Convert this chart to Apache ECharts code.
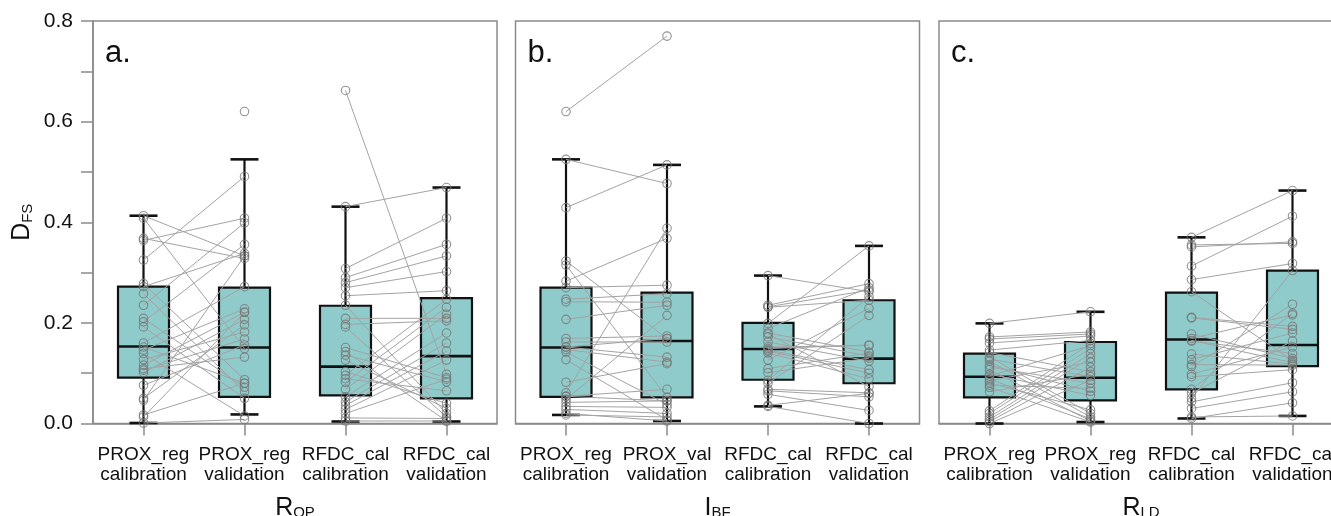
<!DOCTYPE html>
<html><head><meta charset="utf-8">
<script src="https://cdn.jsdelivr.net/npm/echarts@6/dist/echarts.min.js"></script>
<style>html,body{margin:0;padding:0;overflow:hidden;background:#fff}#c{width:1331px;height:516px}</style>
</head><body><div id="c"></div><script>
// ---------- categories / labels ----------
const categoriesA = ['PROX_reg\ncalibration', 'PROX_reg\nvalidation', 'RFDC_cal\ncalibration', 'RFDC_cal\nvalidation'];
const categoriesB = ['PROX_reg\ncalibration', 'PROX_val\nvalidation', 'RFDC_cal\ncalibration', 'RFDC_cal\nvalidation'];
const categoriesC = ['PROX_reg\ncalibration', 'PROX_reg\nvalidation', 'RFDC_cal\ncalibration', 'RFDC_cal\nvalidation'];
const axisTitleMain = ['R', 'I', 'R'];
const axisTitleSub = ['QP', 'BF', 'LD'];
const panelLetters = ['a.', 'b.', 'c.'];
const yTickLabels = ['0.0', '', '0.2', '', '0.4', '', '0.6', '', '0.8'];

// ---------- panel a (paired by index; null = no partner) ----------
const a_proxCal = [0.413, 0.408, 0.368, 0.364, 0.325, 0.278, 0.272, 0.258, 0.235, 0.209, 0.202, 0.192, 0.160, 0.152, 0.146, 0.139, 0.127, 0.116, 0.109, 0.106, 0.101, 0.076, 0.050, 0.046, 0.017, 0.013, 0.001, null];
const a_proxVal = [0.333, 0.149, 0.328, 0.408, 0.491, 0.087, 0.338, 0.063, 0.399, 0.072, 0.356, 0.050, 0.272, 0.080, 0.228, 0.015, 0.182, 0.221, 0.132, 0.168, 0.207, 0.156, 0.196, 0.333, 0.080, 0.221, 0.008, 0.620];
const a_rfdcCal = [0.662, 0.431, 0.308, 0.290, 0.280, 0.270, 0.254, 0.235, 0.209, 0.197, 0.192, 0.151, 0.143, 0.136, 0.126, 0.103, 0.096, 0.089, 0.082, 0.068, 0.053, 0.043, 0.036, 0.028, 0.020, 0.011, 0.005];
const a_rfdcVal = [0.098, 0.469, 0.408, 0.356, 0.333, 0.302, 0.264, 0.020, 0.209, 0.204, 0.013, 0.091, 0.005, 0.083, 0.030, 0.040, 0.247, 0.065, 0.231, 0.217, 0.180, 0.160, 0.144, 0.126, 0.088, 0.010, 0.005];
// box stats: [lower whisker, Q1, median, Q3, upper whisker]
const a_boxes = [[0.001, 0.091, 0.153, 0.272, 0.413], [0.018, 0.053, 0.151, 0.270, 0.525], [0.004, 0.056, 0.113, 0.234, 0.431], [0.004, 0.050, 0.134, 0.249, 0.469]];

// ---------- panel b ----------
const b_proxCal = [0.620, 0.525, 0.429, 0.323, 0.315, 0.283, 0.270, 0.247, 0.242, 0.207, 0.169, 0.162, 0.152, 0.147, 0.142, 0.127, 0.082, 0.061, 0.054, 0.048, 0.042, 0.034, 0.028, 0.017, 0.152, 0.054, 0.020];
const b_proxVal = [0.770, 0.477, 0.514, 0.169, 0.052, 0.368, 0.275, 0.258, 0.241, 0.235, 0.174, 0.162, 0.132, 0.122, 0.038, 0.007, 0.119, 0.388, 0.068, 0.215, 0.045, 0.032, 0.020, 0.013, 0.169, 0.045, 0.005];
const b_rfdcCal = [0.294, 0.235, 0.231, 0.199, 0.189, 0.180, 0.172, 0.162, 0.149, 0.146, 0.140, 0.126, 0.109, 0.101, 0.086, 0.080, 0.068, 0.065, 0.034, 0.152, 0.144, 0.232, 0.178, 0.058, 0.036];
const b_rfdcVal = [0.262, 0.278, 0.245, 0.353, 0.270, 0.142, 0.134, 0.124, 0.156, 0.107, 0.089, 0.229, 0.140, 0.130, 0.252, 0.215, 0.061, 0.053, 0.000, 0.155, 0.100, 0.265, 0.073, 0.026, 0.060];
const b_boxes = [[0.017, 0.053, 0.151, 0.270, 0.525], [0.005, 0.052, 0.164, 0.260, 0.514], [0.034, 0.087, 0.148, 0.200, 0.294], [0.000, 0.080, 0.129, 0.245, 0.353]];

// ---------- panel c ----------
const c_proxCal = [0.199, 0.172, 0.168, 0.160, 0.146, 0.141, 0.132, 0.128, 0.124, 0.116, 0.112, 0.107, 0.098, 0.094, 0.089, 0.085, 0.081, 0.076, 0.072, 0.063, 0.025, 0.020, 0.013, 0.008, 0.004, 0.000];
const c_proxVal = [0.222, 0.182, 0.178, 0.174, 0.165, 0.103, 0.020, 0.093, 0.013, 0.064, 0.080, 0.005, 0.056, 0.155, 0.009, 0.122, 0.027, 0.070, 0.003, 0.098, 0.159, 0.149, 0.139, 0.130, 0.112, 0.086];
const c_rfdcCal = [0.370, 0.355, 0.351, 0.313, 0.286, 0.262, 0.211, 0.210, 0.178, 0.169, 0.165, 0.164, 0.138, 0.127, 0.117, 0.113, 0.098, 0.093, 0.068, 0.060, 0.050, 0.043, 0.030, 0.013, 0.010];
const c_rfdcVal = [0.463, 0.358, 0.361, 0.412, 0.318, 0.125, 0.193, 0.187, 0.129, 0.216, 0.121, 0.139, 0.118, 0.180, 0.116, 0.237, 0.152, 0.107, 0.219, 0.164, 0.304, 0.081, 0.063, 0.015, 0.041];
const c_boxes = [[0.000, 0.052, 0.093, 0.139, 0.199], [0.003, 0.046, 0.091, 0.162, 0.222], [0.010, 0.068, 0.167, 0.260, 0.370], [0.015, 0.114, 0.156, 0.304, 0.463]];

// ---------- assemble ----------
const panels = [
  {cats: categoriesA, groups: [a_proxCal, a_proxVal, a_rfdcCal, a_rfdcVal], boxes: a_boxes},
  {cats: categoriesB, groups: [b_proxCal, b_proxVal, b_rfdcCal, b_rfdcVal], boxes: b_boxes},
  {cats: categoriesC, groups: [c_proxCal, c_proxVal, c_rfdcCal, c_rfdcVal], boxes: c_boxes}
];
const gridLefts = [93, 515.5, 939];
const FONT = 'Liberation Sans, Arial, sans-serif';
const GREY = '#8a8a8a';

function renderBox(params, api) {
  const x = api.value(0);
  const lo = api.coord([x, api.value(1)]);
  const q1 = api.coord([x, api.value(2)]);
  const md = api.coord([x, api.value(3)]);
  const q3 = api.coord([x, api.value(4)]);
  const hi = api.coord([x, api.value(5)]);
  const cx = lo[0], hw = 25.5, cw = 14;
  const st = {stroke: '#111', lineWidth: 2.2};
  return {type: 'group', children: [
    {type: 'line', shape: {x1: cx, y1: lo[1], x2: cx, y2: q1[1]}, style: st},
    {type: 'line', shape: {x1: cx, y1: q3[1], x2: cx, y2: hi[1]}, style: st},
    {type: 'line', shape: {x1: cx - cw, y1: lo[1], x2: cx + cw, y2: lo[1]}, style: {stroke: '#111', lineWidth: 2.6}},
    {type: 'line', shape: {x1: cx - cw, y1: hi[1], x2: cx + cw, y2: hi[1]}, style: {stroke: '#111', lineWidth: 2.6}},
    {type: 'rect', shape: {x: cx - hw, y: q3[1], width: 2 * hw, height: q1[1] - q3[1]}, style: {fill: '#8fcbcb', stroke: '#111', lineWidth: 2.2}},
    {type: 'line', shape: {x1: cx - hw, y1: md[1], x2: cx + hw, y2: md[1]}, style: {stroke: '#111', lineWidth: 2.6}}
  ]};
}
function renderLink(params, api) {
  const p1 = api.coord([api.value(0), api.value(1)]);
  const p2 = api.coord([api.value(2), api.value(3)]);
  return {type: 'line', shape: {x1: p1[0], y1: p1[1], x2: p2[0], y2: p2[1]}, style: {stroke: '#a3a3a3', lineWidth: 1}};
}

const grids = [], xAxes = [], yAxes = [], series = [], graphics = [];
panels.forEach((p, i) => {
  grids.push({left: gridLefts[i], top: 21, width: 404, height: 402.5, show: true, borderColor: GREY, borderWidth: 1.5,
    backgroundColor: 'transparent', containLabel: false, outerBoundsMode: 'none'});
  xAxes.push({
    type: 'category', gridIndex: i, data: p.cats, boundaryGap: true,
    axisLine: {show: true, lineStyle: {color: GREY, width: 1.5}},
    axisTick: {show: true, alignWithLabel: true, length: 12, lineStyle: {color: GREY, width: 1.5}},
    axisLabel: {fontSize: 19, fontFamily: FONT, color: '#111', lineHeight: 20.5, margin: 21, interval: 0, hideOverlap: false},
    name: '{m|' + axisTitleMain[i] + '}{s|' + axisTitleSub[i] + '}', nameLocation: 'middle', nameGap: 68,
    nameTextStyle: {rich: {
      m: {fontSize: 25, fontFamily: FONT, color: '#111', lineHeight: 25, verticalAlign: 'top'},
      s: {fontSize: 15, fontFamily: FONT, color: '#111', lineHeight: 14, verticalAlign: 'bottom', padding: [15, 0, 0, 0]}
    }},
    splitLine: {show: false}
  });
  yAxes.push({
    type: 'value', gridIndex: i, min: 0, max: 0.8, interval: 0.1, show: i === 0,
    axisLine: {show: true, lineStyle: {color: GREY, width: 1.5}},
    axisTick: {show: true, length: 12, lineStyle: {color: GREY, width: 1.5}},
    axisLabel: {fontSize: 21, fontFamily: FONT, color: '#111', margin: 20,
      formatter: (v) => yTickLabels[Math.round(v * 10)] || ''},
    splitLine: {show: false},
    name: i === 0 ? '{m|D}{s|FS}' : '', nameLocation: 'middle', nameRotate: 90, nameGap: 58,
    nameTextStyle: {rich: {
      m: {fontSize: 25, fontFamily: FONT, color: '#111', lineHeight: 25, verticalAlign: 'top'},
      s: {fontSize: 15, fontFamily: FONT, color: '#111', lineHeight: 14, verticalAlign: 'bottom', padding: [15, 0, 0, 0]}
    }}
  });
  series.push({
    type: 'custom', xAxisIndex: i, yAxisIndex: i, z: 2, renderItem: renderBox,
    encode: {x: 0, y: [1, 2, 3, 4, 5]},
    data: p.boxes.map((b, k) => [k, b[0], b[1], b[2], b[3], b[4]])
  });
  const links = [];
  [[0, 1], [2, 3]].forEach(([ca, cb]) => {
    const A = p.groups[ca], B = p.groups[cb];
    for (let k = 0; k < A.length; k++) {
      if (A[k] != null && B[k] != null) links.push([ca, A[k], cb, B[k]]);
    }
  });
  series.push({
    type: 'custom', xAxisIndex: i, yAxisIndex: i, z: 3, renderItem: renderLink,
    encode: {x: [0, 2], y: [1, 3]}, data: links
  });
  const pts = [];
  p.groups.forEach((g, k) => g.forEach(v => { if (v != null) pts.push([k, v]); }));
  series.push({
    type: 'scatter', xAxisIndex: i, yAxisIndex: i, z: 4, symbol: 'circle', symbolSize: 8.5,
    itemStyle: {color: 'rgba(0,0,0,0)', borderColor: '#777', borderWidth: 1.1},
    data: pts
  });
  graphics.push({type: 'text', left: gridLefts[i] + 12, top: 38, z: 10,
    style: {text: panelLetters[i], fontSize: 31, fontFamily: FONT, fill: '#111'}});
});

const chart = echarts.init(document.getElementById('c'), null, {renderer: 'canvas'});
chart.setOption({
  animation: false,
  backgroundColor: '#fff',
  grid: grids, xAxis: xAxes, yAxis: yAxes, series: series, graphic: graphics
});
</script></body></html>
